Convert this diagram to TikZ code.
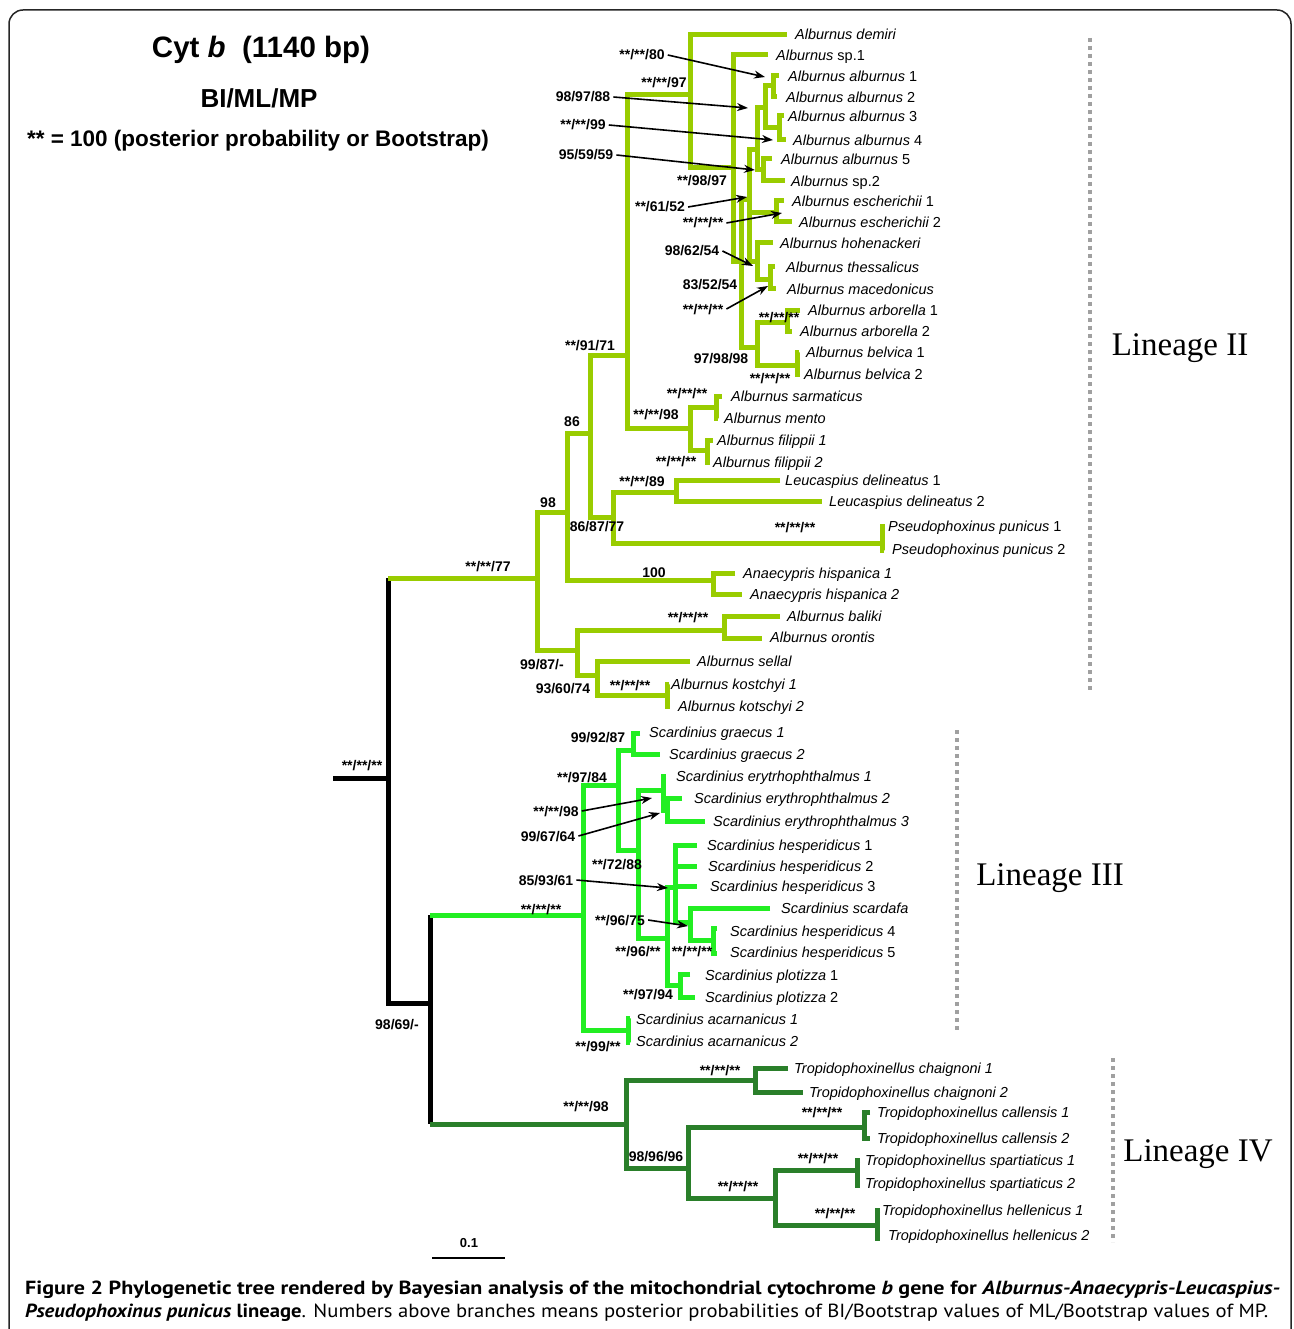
\documentclass[tikz,border=0pt]{standalone}
\usepackage{fontspec}
\usepackage{graphicx}
\setmainfont{Liberation Sans}
\newfontfamily\serifgf{Liberation Serif}
\newfontfamily\capfont{PT Sans}
\usetikzlibrary{arrows.meta}
\definecolor{cII}{HTML}{99CC00}
\definecolor{cIII}{HTML}{22EE22}
\definecolor{cIV}{HTML}{2A7F2A}
\definecolor{dotgray}{HTML}{A0A0A0}
\tikzset{
  l2/.style={draw=cII, line width=5pt},
  l3/.style={draw=cIII, line width=5pt},
  l4/.style={draw=cIV, line width=5pt},
  blk/.style={draw=black, line width=5pt},
  tax/.style={anchor=west, inner sep=0pt, text height=10.4pt, text depth=0pt, font=\fontsize{14.5}{16}\selectfont\itshape},
  sup/.style={inner sep=0pt, text height=10pt, text depth=0pt, font=\fontsize{14}{16}\selectfont\bfseries},
  arr/.style={draw=black, line width=1.6pt, -{Stealth[length=11pt,width=8pt]}},
  linlab/.style={inner sep=0pt, font=\fontsize{33}{36}\selectfont\serifgf},
  dotsline/.style={draw=dotgray, line width=4pt, dash pattern=on 4pt off 4pt},
  hdr/.style={inner sep=0pt, font=\bfseries},
}
\newcommand\tx[4]{\node[tax] (#1) at (#2,#3) {#4};}
\newcommand\supv[4]{\node[sup] (#1) at (#2,#3) {#4};}
\begin{document}
\begin{tikzpicture}[x=1pt,y=-1pt]
\useasboundingbox (0,0) rectangle (1293,1329);
\fill[white] (0,0) rectangle (1293,1329);
\draw[line width=1.5pt, draw=black!85, rounded corners=14pt] (9,10) rectangle (1291,1360);

% header
\node[hdr, font=\fontsize{29.5}{33}\selectfont\bfseries] (h1) at (261,50) {Cyt \textit{b}\ \ (1140 bp)};
\node[hdr, font=\fontsize{26}{29}\selectfont\bfseries] (h2) at (259,98) {BI/ML/MP};
\node[hdr, font=\fontsize{22.5}{25}\selectfont\bfseries] (h3) at (258,141) {** = 100 (posterior probability or Bootstrap)};

% root (black)
\draw[blk] (333,778) -- (388,778);
\draw[blk] (388,578) -- (388,1003) -- (430,1003);
\draw[blk] (430,915) -- (430,1124);

% ---------------- Lineage II ----------------
\draw[l2] (388,578) -- (537,578);
\draw[l2] (567,512) -- (537,512) -- (537,650) -- (577,650);
\draw[l2] (590,433) -- (567,433) -- (567,580) -- (713,580);
\draw[l2] (627,355) -- (590,355) -- (590,517) -- (613,517);
\draw[l2] (690,95) -- (627,95) -- (627,428) -- (690,428);
\draw[l2] (787,35) -- (690,35) -- (690,168) -- (733,168);
\draw[l2] (768,55) -- (733,55) -- (733,262) -- (741,262);
\draw[l2] (749,200) -- (741,200) -- (741,347) -- (757,347);
\draw[l2] (757,150) -- (749,150) -- (749,262) -- (757,262);
\draw[l2] (749,213) -- (776,213);
\draw[l2] (765,108) -- (757,108) -- (757,170) -- (763,170);
\draw[l2] (773,86) -- (765,86) -- (765,128) -- (779,128);
\draw[l2] (779,76) -- (773,76) -- (773,97) -- (777,97);
\draw[l2] (784,116) -- (779,116) -- (779,140) -- (786,140);
\draw[l2] (772,159) -- (763,159) -- (763,181) -- (785,181);
\draw[l2] (784,201) -- (776,201) -- (776,222) -- (792,222);
\draw[l2] (773,243) -- (757,243) -- (757,280) -- (770,280);
\draw[l2] (775,267) -- (770,267) -- (770,289) -- (776,289);
\draw[l2] (787,322) -- (757,322) -- (757,365) -- (797,365);
\draw[l2] (800,310) -- (787,310) -- (787,331) -- (792,331);
\draw[l2] (799,352) -- (797,352) -- (797,374) -- (800,374);
\draw[l2] (716,407) -- (690,407) -- (690,450) -- (707,450);
\draw[l2] (722,396) -- (716,396) -- (716,418) -- (718,418);
\draw[l2] (713,440) -- (707,440) -- (707,462) -- (710,462);
\draw[l2] (676,492) -- (613,492) -- (613,543) -- (882,543);
\draw[l2] (780,480) -- (676,480) -- (676,501) -- (822,501);
\draw[l2] (885,526) -- (882,526) -- (882,550) -- (884,550);
\draw[l2] (735,573) -- (713,573) -- (713,594) -- (742,594);
\draw[l2] (724,630) -- (577,630) -- (577,675) -- (597,675);
\draw[l2] (780,616) -- (724,616) -- (724,638) -- (762,638);
\draw[l2] (690,661) -- (597,661) -- (597,695) -- (667,695);
\draw[l2] (669,684) -- (667,684) -- (667,706) -- (670,706);

% ---------------- Lineage III ----------------
\draw[l3] (430,915) -- (583,915);
\draw[l3] (618,785) -- (583,785) -- (583,1030) -- (628,1030);
\draw[l3] (633,750) -- (618,750) -- (618,850) -- (638,850);
\draw[l3] (640,733) -- (633,733) -- (633,754) -- (660,754);
\draw[l3] (663,790) -- (638,790) -- (638,938) -- (667,938);
\draw[l3] (666,776) -- (663,776) -- (663,810) -- (667,810);
\draw[l3] (682,798) -- (667,798) -- (667,821) -- (705,821);
\draw[l3] (675,887) -- (667,887) -- (667,985) -- (680,985);
\draw[l3] (697,845) -- (675,845) -- (675,922) -- (690,922);
\draw[l3] (675,866) -- (697,866);
\draw[l3] (675,886) -- (697,886);
\draw[l3] (770,908) -- (690,908) -- (690,940) -- (713,940);
\draw[l3] (717,928) -- (713,928) -- (713,953) -- (717,953);
\draw[l3] (690,974) -- (680,974) -- (680,997) -- (695,997);
\draw[l3] (630,1018) -- (628,1018) -- (628,1042) -- (630,1042);

% ---------------- Lineage IV ----------------
\draw[l4] (430,1124) -- (626,1124);
\draw[l4] (755,1080) -- (626,1080) -- (626,1168) -- (688,1168);
\draw[l4] (788,1068) -- (755,1068) -- (755,1092) -- (803,1092);
\draw[l4] (864,1127) -- (688,1127) -- (688,1198) -- (775,1198);
\draw[l4] (870,1112) -- (864,1112) -- (864,1138) -- (870,1138);
\draw[l4] (857,1170) -- (775,1170) -- (775,1225) -- (877,1225);
\draw[l4] (860,1160) -- (857,1160) -- (857,1185) -- (860,1185);
\draw[l4] (880,1210) -- (877,1210) -- (877,1238) -- (880,1238);

% ---------------- taxa ----------------
\tx{t01}{795}{34}{Alburnus demiri}
\tx{t02}{776}{55}{Alburnus \upshape sp.1}
\tx{t03}{788}{76}{Alburnus alburnus \upshape 1}
\tx{t04}{786}{97}{Alburnus alburnus \upshape 2}
\tx{t05}{788}{116}{Alburnus alburnus \upshape 3}
\tx{t06}{793}{140}{Alburnus alburnus \upshape 4}
\tx{t07}{781}{159}{Alburnus alburnus \upshape 5}
\tx{t08}{791}{181}{Alburnus \upshape sp.2}
\tx{t09}{792}{201}{Alburnus escherichii \upshape 1}
\tx{t10}{799}{222}{Alburnus escherichii \upshape 2}
\tx{t11}{780}{243}{Alburnus hohenackeri}
\tx{t12}{786}{267}{Alburnus thessalicus}
\tx{t13}{787}{289}{Alburnus macedonicus}
\tx{t14}{808}{310}{Alburnus arborella \upshape 1}
\tx{t15}{800}{331}{Alburnus arborella \upshape 2}
\tx{t16}{806}{352}{Alburnus belvica \upshape 1}
\tx{t17}{804}{374}{Alburnus belvica \upshape 2}
\tx{t18}{731}{396}{Alburnus sarmaticus}
\tx{t19}{724}{418}{Alburnus mento}
\tx{t20}{717}{440}{Alburnus filippii 1}
\tx{t21}{713}{462}{Alburnus filippii 2}
\tx{t22}{785}{480}{Leucaspius delineatus \upshape 1}
\tx{t23}{829}{501}{Leucaspius delineatus \upshape 2}
\tx{t24}{888}{526}{Pseudophoxinus punicus \upshape 1}
\tx{t25}{892}{549}{Pseudophoxinus punicus \upshape 2}
\tx{t26}{743}{573}{Anaecypris hispanica 1}
\tx{t27}{750}{594}{Anaecypris hispanica 2}
\tx{t28}{787}{616}{Alburnus baliki}
\tx{t29}{770}{637}{Alburnus orontis}
\tx{t30}{697}{661}{Alburnus sellal}
\tx{t31}{671}{684}{Alburnus kostchyi 1}
\tx{t32}{678}{706}{Alburnus kotschyi 2}
\tx{s01}{649}{732}{Scardinius graecus 1}
\tx{s02}{669}{754}{Scardinius graecus 2}
\tx{s03}{676}{776}{Scardinius erytrhophthalmus 1}
\tx{s04}{694}{798}{Scardinius erythrophthalmus 2}
\tx{s05}{713}{821}{Scardinius erythrophthalmus 3}
\tx{s06}{707}{845}{Scardinius hesperidicus \upshape 1}
\tx{s07}{708}{866}{Scardinius hesperidicus \upshape 2}
\tx{s08}{710}{886}{Scardinius hesperidicus \upshape 3}
\tx{s09}{781}{908}{Scardinius scardafa}
\tx{s10}{730}{931}{Scardinius hesperidicus \upshape 4}
\tx{s11}{730}{952}{Scardinius hesperidicus \upshape 5}
\tx{s12}{705}{975}{Scardinius plotizza \upshape 1}
\tx{s13}{705}{997}{Scardinius plotizza \upshape 2}
\tx{s14}{636}{1019}{Scardinius acarnanicus 1}
\tx{s15}{636}{1041}{Scardinius acarnanicus 2}
\tx{r01}{794}{1068}{Tropidophoxinellus chaignoni 1}
\tx{r02}{809}{1092}{Tropidophoxinellus chaignoni 2}
\tx{r03}{877}{1112}{Tropidophoxinellus callensis 1}
\tx{r04}{877}{1138}{Tropidophoxinellus callensis 2}
\tx{r05}{865}{1160}{Tropidophoxinellus spartiaticus 1}
\tx{r06}{865}{1183}{Tropidophoxinellus spartiaticus 2}
\tx{r07}{882}{1210}{Tropidophoxinellus hellenicus 1}
\tx{r08}{888}{1235}{Tropidophoxinellus hellenicus 2}

% ---------------- support values ----------------
\supv{b01}{362}{765}{**/**/**}
\supv{b02}{397}{1024}{98/69/-}
\supv{b03}{488}{566}{**/**/77}
\supv{b04}{548}{502}{98}
\supv{b05}{572}{421}{86}
\supv{b06}{590}{345}{**/91/71}
\supv{b07}{597}{526}{86/87/77}
\supv{b08}{642}{481}{**/**/89}
\supv{b09}{795}{527}{**/**/**}
\supv{b10}{654}{572}{100}
\supv{b11}{688}{617}{**/**/**}
\supv{b12}{542}{664}{99/87/-}
\supv{b13}{563}{688}{93/60/74}
\supv{b14}{630}{685}{**/**/**}
\supv{b15}{687}{393}{**/**/**}
\supv{b16}{656}{414}{**/**/98}
\supv{b17}{676}{461}{**/**/**}
\supv{b18}{642}{55}{**/**/80}
\supv{b19}{664}{83}{**/**/97}
\supv{b20}{583}{97}{98/97/88}
\supv{b21}{583}{125}{**/**/99}
\supv{b22}{586}{155}{95/59/59}
\supv{b23}{702}{181}{**/98/97}
\supv{b24}{660}{207}{**/61/52}
\supv{b25}{703}{223}{**/**/**}
\supv{b26}{692}{251}{98/62/54}
\supv{b27}{710}{285}{83/52/54}
\supv{b28}{703}{309}{**/**/**}
\supv{b29}{779}{317}{**/**/**}
\supv{b30}{721}{358}{97/98/98}
\supv{b31}{770}{378}{**/**/**}
\supv{g01}{541}{909}{**/**/**}
\supv{g02}{598}{737}{99/92/87}
\supv{g03}{582}{777}{**/97/84}
\supv{g04}{556}{811}{**/**/98}
\supv{g05}{548}{836}{99/67/64}
\supv{g06}{617}{864}{**/72/88}
\supv{g07}{546}{880}{85/93/61}
\supv{g08}{620}{920}{**/96/75}
\supv{g09}{638}{951}{**/96/**}
\supv{g10}{692}{951}{**/**/**}
\supv{g11}{648}{994}{**/97/94}
\supv{g12}{598}{1046}{**/99/**}
\supv{d01}{586}{1106}{**/**/98}
\supv{d02}{720}{1070}{**/**/**}
\supv{d03}{656}{1156}{98/96/96}
\supv{d04}{822}{1112}{**/**/**}
\supv{d05}{738}{1186}{**/**/**}
\supv{d06}{818}{1158}{**/**/**}
\supv{d07}{835}{1213}{**/**/**}

% ---------------- arrows ----------------
\coordinate (a01) at (765,77);
\coordinate (a02) at (748,108);
\coordinate (a03) at (773,140);
\coordinate (a04) at (755,170);
\coordinate (a05) at (747,197);
\coordinate (a06) at (782,213);
\coordinate (a07) at (753,266);
\coordinate (a08) at (768,286);
\coordinate (a09) at (652,798);
\coordinate (a10) at (660,813);
\coordinate (a11) at (668,888);
\coordinate (a12) at (688,926);
\draw[arr] ([xshift=3pt]b18.east) -- (a01);
\draw[arr] ([xshift=3pt]b20.east) -- (a02);
\draw[arr] ([xshift=3pt]b21.east) -- (a03);
\draw[arr] ([xshift=3pt]b22.east) -- (a04);
\draw[arr] ([xshift=3pt]b24.east) -- (a05);
\draw[arr] ([xshift=3pt]b25.east) -- (a06);
\draw[arr] ([xshift=3pt]b26.east) -- (a07);
\draw[arr] ([xshift=3pt]b28.east) -- (a08);
\draw[arr] ([xshift=3pt]g04.east) -- (a09);
\draw[arr] ([xshift=3pt]g05.east) -- (a10);
\draw[arr] ([xshift=3pt]g07.east) -- (a11);
\draw[arr] ([xshift=3pt]g08.east) -- (a12);

% ---------------- lineage brackets ----------------
\draw[dotsline] (1090,38) -- (1090,690);
\draw[dotsline] (957,730) -- (957,1030);
\draw[dotsline] (1113,1058) -- (1113,1242);
\node[linlab] (L2) at (1180,348) {Lineage II};
\node[linlab] (L3) at (1050,878) {Lineage III};
\node[linlab] (L4) at (1198,1154) {Lineage IV};

% scale bar
\coordinate (sb1) at (432,1258);
\coordinate (sb2) at (505,1258);
\draw[draw=black, line width=2.5pt] (sb1) -- (sb2);
\node[sup, font=\fontsize{13}{15}\selectfont\bfseries] (sbl) at (469,1242) {0.1};

% caption
\node[anchor=west, inner sep=0pt] (cap1) at (25,1290) {\resizebox{1255pt}{\height}{\capfont\fontsize{19}{22}\selectfont\bfseries Figure 2 Phylogenetic tree rendered by Bayesian analysis of the mitochondrial cytochrome \textit{b} gene for \textit{Alburnus-Anaecypris-Leucaspius-}}};
\node[anchor=west, inner sep=0pt] (cap2) at (25,1313) {\resizebox{1243pt}{\height}{\capfont\fontsize{19}{22}\selectfont{\bfseries\textit{Pseudophoxinus punicus} lineage}. Numbers above branches means posterior probabilities of BI/Bootstrap values of ML/Bootstrap values of MP.}};
\end{tikzpicture}
\end{document}
